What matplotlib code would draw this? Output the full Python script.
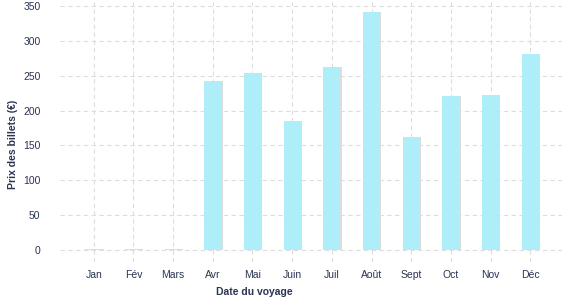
import matplotlib
matplotlib.use("Agg")
import matplotlib.pyplot as plt
import numpy as np

months = ["Jan", "Fév", "Mars", "Avr", "Mai", "Juin", "Juil", "Août", "Sept", "Oct", "Nov", "Déc"]
prices = [1, 1, 1, 242, 254, 185, 262, 341, 162, 221, 222, 281]
y_ticks = [0, 50, 100, 150, 200, 250, 300, 350]

plt.rcParams["font.family"] = ["Liberation Sans", "DejaVu Sans"]
text_col = "#2b3452"
bar_col = "#aeeef8"

fig = plt.figure(figsize=(5.77, 3.0), dpi=100)
ax = fig.add_axes([60 / 577, 0.127, 502 / 577, 0.865])

x = np.arange(len(months))
# faint shadow on right side of bars
ax.bar(x + 0.035, prices, width=0.43, color="#dcdcdc", zorder=2)
ax.bar(x, prices, width=0.43, color=bar_col, zorder=3)

ax.set_xlim(-0.85, 11.8)
ax.set_ylim(-17, 355)
ax.set_xticks(x)
ax.set_xticklabels(months)
ax.set_yticks(y_ticks)

ax.grid(True, color="#dddddd", linestyle=(0, (4, 3)), linewidth=0.8, zorder=0)
for s in ax.spines.values():
    s.set_visible(False)
ax.tick_params(axis="both", length=0, labelsize=7.5, colors=text_col)
ax.tick_params(axis="y", pad=14)
ax.tick_params(axis="x", pad=6)

ax.set_xlabel("Date du voyage", fontsize=7.5, fontweight="bold", color=text_col)
ax.set_ylabel("Prix des billets (€)", fontsize=7.5, fontweight="bold", color=text_col)
ax.xaxis.set_label_coords(0.388, -0.097)
ax.yaxis.set_label_coords(-0.084, 0.451)

fig.savefig("out.png", dpi=100, facecolor="white")
